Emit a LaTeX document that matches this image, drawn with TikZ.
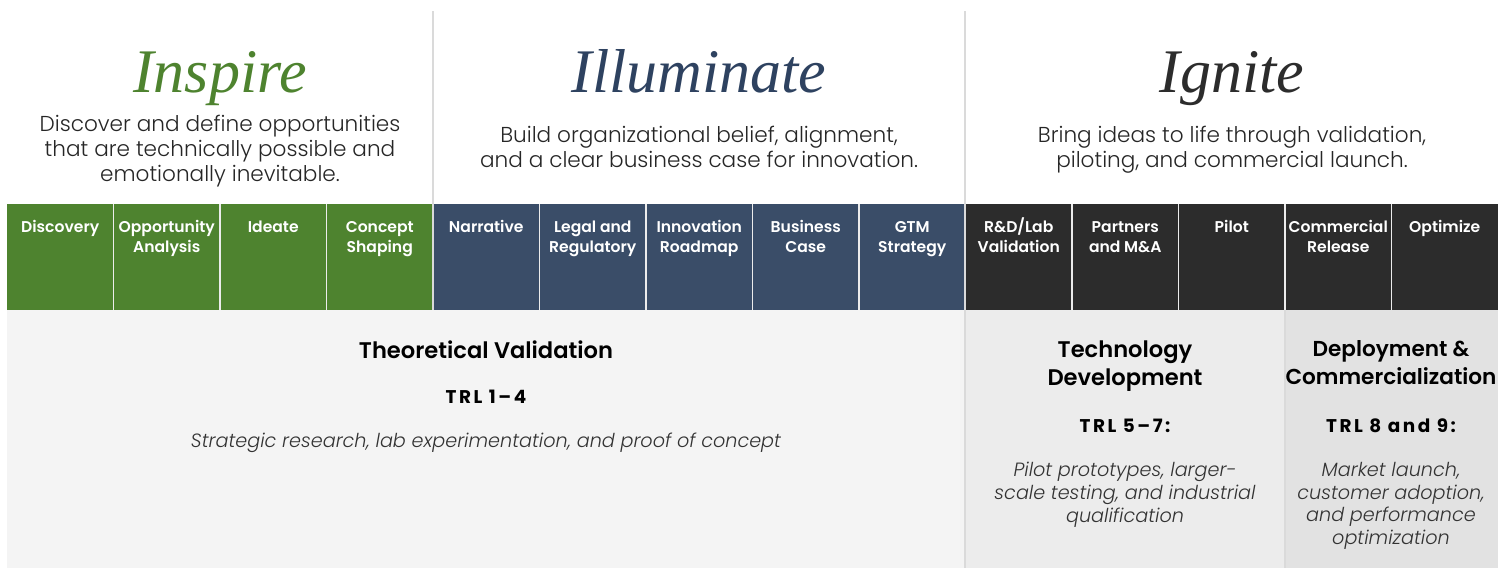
\documentclass[tikz,border=0pt]{standalone}
\usepackage{fontspec}
\setmainfont{Poppins}
\newfontfamily\phasefont{Liberation Serif}
\newfontfamily\lightfont{Poppins Light}
\newfontfamily\medfont{Poppins Medium}
\newfontfamily\semifont{Poppins SemiBold}
\newfontfamily\trlfont{Poppins}[LetterSpace=14]

\definecolor{inspire}{HTML}{4E832F}
\definecolor{illuminate}{HTML}{3A4D68}
\definecolor{illuminatetext}{HTML}{2E4260}
\definecolor{ignite}{HTML}{2C2C2C}
\definecolor{panelA}{HTML}{F4F4F4}
\definecolor{panelB}{HTML}{ECECEC}
\definecolor{panelC}{HTML}{E2E2E2}
\definecolor{rulegray}{HTML}{DADADA}

\begin{document}
\begin{tikzpicture}[x=0.5pt, y=-0.5pt,
  phase/.style={anchor=base, inner sep=0pt, font=\phasefont\itshape\fontsize{31}{36}\selectfont},
  blurb/.style={anchor=north, inner sep=0pt, align=center, text=black!85,
    font=\lightfont\fontsize{10.8}{12.5}\selectfont},
  stage/.style={anchor=north, inner sep=0pt, align=center, text=white,
    font=\semifont\fontsize{7.8}{10}\selectfont},
  band/.style={anchor=north, inner sep=0pt, align=center,
    font=\semifont\fontsize{11.3}{14}\selectfont},
  trl/.style={anchor=base, inner sep=0pt, font=\trlfont\bfseries\fontsize{9.2}{11}\selectfont},
  note/.style={anchor=north, inner sep=0pt, align=center, text=black!80,
    font=\lightfont\itshape\fontsize{9.6}{11.3}\selectfont}]
  \useasboundingbox (0,0) rectangle (1507,568);

  % lower panels
  \fill[panelA] (7,310) rectangle (965,568);
  \fill[panelB] (965,310) rectangle (1285,568);
  \fill[panelC] (1285,310) rectangle (1498,568);

  % stage columns, 106.5 wide each (phantom keeps first lines level)
  \foreach \lbl [count=\n from 0] in {Discovery, {Opportunity\\Analysis}, Ideate, {Concept\\Shaping}} {
    \fill[inspire] (7+106.5*\n,204) rectangle ++(106.5,106);
    \node[stage] (stage\n) at (60.25+106.5*\n,217) {\vphantom{/}\lbl};
  }
  \foreach \lbl [count=\n from 4] in {Narrative, {Legal and\\Regulatory}, {Innovation\\Roadmap}, {Business\\Case}, {GTM\\Strategy}} {
    \fill[illuminate] (7+106.5*\n,204) rectangle ++(106.5,106);
    \node[stage] (stage\n) at (60.25+106.5*\n,217) {\vphantom{/}\lbl};
  }
  \foreach \lbl [count=\n from 9] in {{R\&D/Lab\\Validation}, {Partners\\and M\&A}, Pilot, {Commercial\\Release}, Optimize} {
    \fill[ignite] (7+106.5*\n,204) rectangle ++(106.5,106);
    \node[stage] (stage\n) at (60.25+106.5*\n,217) {\vphantom{/}\lbl};
  }
  \foreach \n in {1,...,13}
    \draw[white!85!gray, line width=0.6pt] (7+106.5*\n,204) -- (7+106.5*\n,310);

  % dividers
  \draw[rulegray, line width=1pt] (433,11) -- (433,310);
  \draw[rulegray, line width=1pt] (965,11) -- (965,568);
  \draw[rulegray, line width=0.6pt] (1285,310) -- (1285,568);

  % phase headings
  \node[phase, text=inspire] (inspire) at (220,92) {Inspire};
  \node[phase, text=illuminatetext] (illuminate) at (699,92) {Illuminate};
  \node[phase, text=ignite] (ignite) at (1232,92) {Ignite};

  \node[blurb] (inspireblurb) at (220,115) {Discover and define opportunities\\that are technically possible and\\emotionally inevitable.};
  \node[blurb] (illuminateblurb) at (699,126) {Build organizational belief, alignment,\\and a clear business case for innovation.};
  \node[blurb] (igniteblurb) at (1232,126) {Bring ideas to life through validation,\\piloting, and commercial launch.};

  % TRL bands
  \node[band] (theory) at (486,340) {Theoretical Validation};
  \node[trl] (theorytrl) at (486,403) {TRL 1–4};
  \node[note] (theorynote) at (486,433) {Strategic research, lab experimentation, and proof of concept};

  \node[band] (techdev) at (1125,340) {Technology\\Development};
  \node[trl] (techdevtrl) at (1125,432) {TRL 5–7:};
  \node[note] (techdevnote) at (1125,462) {Pilot prototypes, larger-\\scale testing, and industrial\\qualification};

  \node[band, font=\semifont\fontsize{10.8}{14}\selectfont] (deploy) at (1391,340) {Deployment \&\\Commercialization};
  \node[trl] (deploytrl) at (1391,432) {TRL 8 and 9:};
  \node[note] (deploynote) at (1391,462) {Market launch,\\customer adoption,\\and performance\\optimization};
\end{tikzpicture}
\end{document}
